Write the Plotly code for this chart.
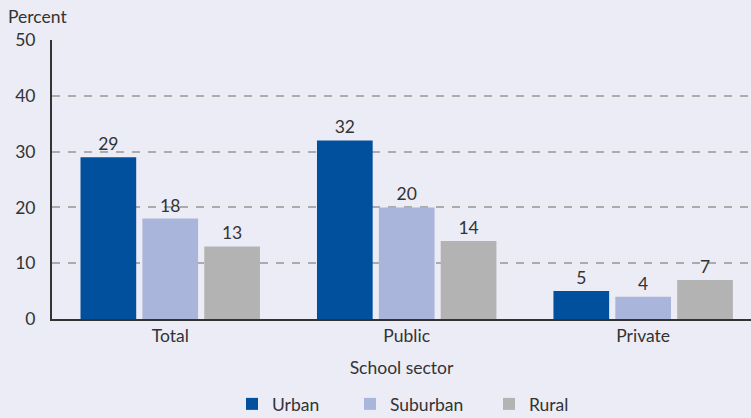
import plotly.graph_objects as go

sectors = ["Total", "Public", "Private"]
urban = [29, 32, 5]
suburban = [18, 20, 4]
rural = [13, 14, 7]
y_ticks = [0, 10, 20, 30, 40, 50]

series = [
    ("Urban", urban, "#00509E", "legend", 246),
    ("Suburban", suburban, "#AAB5DB", "legend2", 364),
    ("Rural", rural, "#B3B3B3", "legend3", 503),
]

bg = "#EBECF6"
font_family = "Lato, Open Sans, sans-serif"
fsize = 17.5

fig = go.Figure()
for name, vals, color, leg, _ in series:
    fig.add_trace(go.Bar(
        name=name, x=sectors, y=vals, legend=leg,
        marker=dict(color=color, line=dict(width=0)),
        text=[str(v) for v in vals], textposition="outside",
        textfont=dict(size=fsize, color="#333333", family=font_family),
        cliponaxis=False,
    ))

# one legend box per series, laid out in a row under the axis title
legend_boxes = {}
for name, _, _, leg, left_px in series:
    legend_boxes[leg] = dict(
        orientation="h", xref="container", yref="container",
        x=(left_px - 14) / 751, xanchor="left", y=14 / 418, yanchor="middle",
        font=dict(size=fsize), itemwidth=30, bgcolor="rgba(0,0,0,0)",
    )

fig.update_layout(
    width=751, height=418,
    paper_bgcolor=bg, plot_bgcolor=bg,
    margin=dict(l=52, r=0, t=40, b=99),
    barmode="group", bargap=0.215, bargroupgap=0.1,
    font=dict(family=font_family, size=fsize, color="#333333"),
    showlegend=True,
    **legend_boxes,
    xaxis=dict(range=[-0.5, 2.456], showline=True, linecolor="#333333", linewidth=2,
               ticks="", tickfont=dict(size=fsize), showgrid=False,
               title=dict(text="School sector", font=dict(size=fsize), standoff=17)),
    yaxis=dict(range=[0, 50], tickvals=y_ticks, showline=True, linecolor="#333333",
               linewidth=2, ticks="", tickfont=dict(size=fsize), ticklabelstandoff=11,
               showgrid=True, gridcolor="#ABABAB", griddash="8px,8px", gridwidth=1.5,
               zeroline=False),
    annotations=[dict(text="Percent", x=0, xref="paper", xanchor="left", xshift=-46,
                      y=1, yref="paper", yanchor="bottom", yshift=11,
                      showarrow=False, font=dict(size=fsize))],
)

fig.write_html("out.html")
